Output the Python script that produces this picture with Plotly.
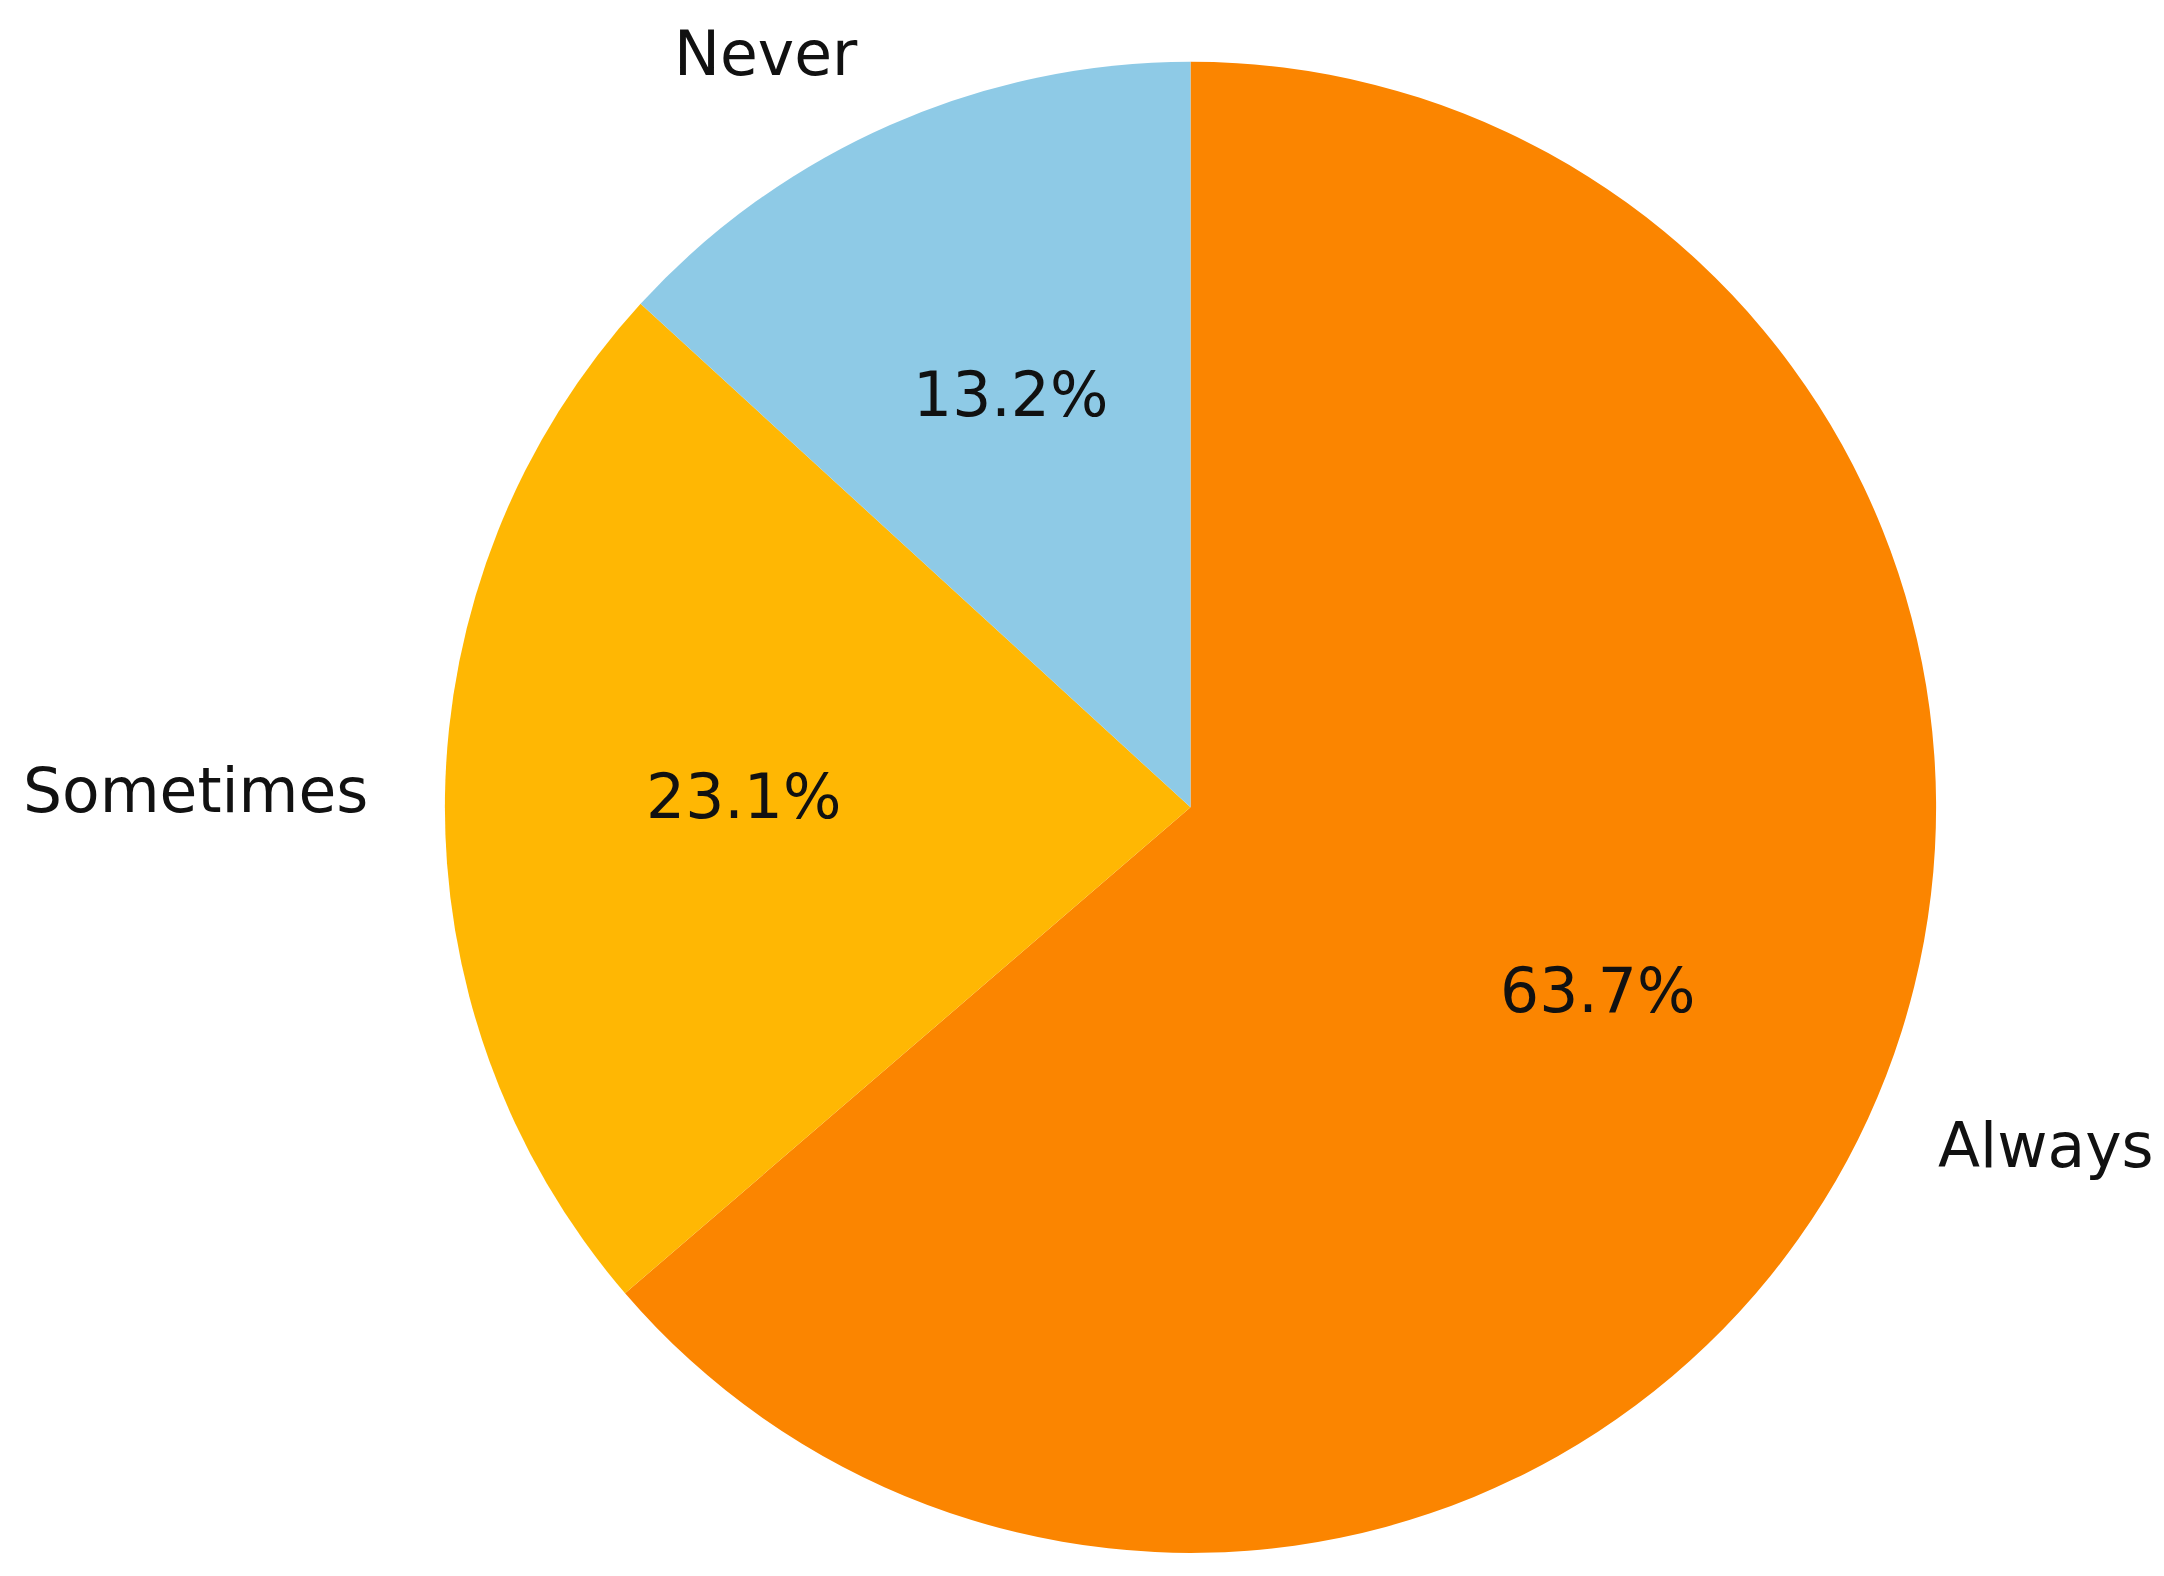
import math
import plotly.graph_objects as go

categories = ["Never", "Sometimes", "Always"]
values = [13.2, 23.1, 63.7]
colors = ["#8ECAE6", "#FFB703", "#FB8500"]

W, H = 2164, 1576
# pie geometry (pixels)
CX, CY, R = 1190.5, 807.3, 745.6
dom_x = [(CX - R) / W, (CX + R) / W]
dom_y = [(H - CY - R) / H, (H - CY + R) / H]

# matplotlib-style: first slice starts at 12 o'clock going counterclockwise,
# which equals plotly clockwise with reversed order
fig = go.Figure(go.Pie(
    labels=categories[::-1],
    values=values[::-1],
    marker=dict(colors=colors[::-1], line=dict(width=0)),
    sort=False,
    direction="clockwise",
    rotation=0,
    textinfo="none",
    hoverinfo="label+percent",
    domain=dict(x=dom_x, y=dom_y),
    showlegend=False,
))

total = sum(values)
annotations = []
start = 90.0
font = dict(family="DejaVu Sans", size=61.5, color="#111111")
for cat, v in zip(categories, values):
    span = 360.0 * v / total
    mid = math.radians(start + span / 2)
    start += span
    c, s = math.cos(mid), math.sin(mid)
    # percentage at 0.6 r
    px = CX + 0.6 * R * c
    py = CY - 0.6 * R * s
    annotations.append(dict(x=px / W, y=1 - py / H, xref="paper", yref="paper",
                            text=f"{100 * v / total:.1f}%", showarrow=False,
                            xanchor="center", yanchor="middle", yshift=3,
                            font=font))
    # label at 1.1 r
    lx = CX + 1.1 * R * c
    ly = CY - 1.1 * R * s
    annotations.append(dict(x=lx / W, y=1 - ly / H, xref="paper", yref="paper",
                            text=cat, showarrow=False,
                            xanchor="left" if c > 0 else "right", yanchor="middle",
                            yshift=3, font=font))

fig.update_layout(
    width=W, height=H,
    margin=dict(l=0, r=0, t=0, b=0),
    paper_bgcolor="white", plot_bgcolor="white",
    annotations=annotations,
)
fig.write_html("out.html", config={"displayModeBar": False},
               post_script="document.body.style.margin='0px';")
